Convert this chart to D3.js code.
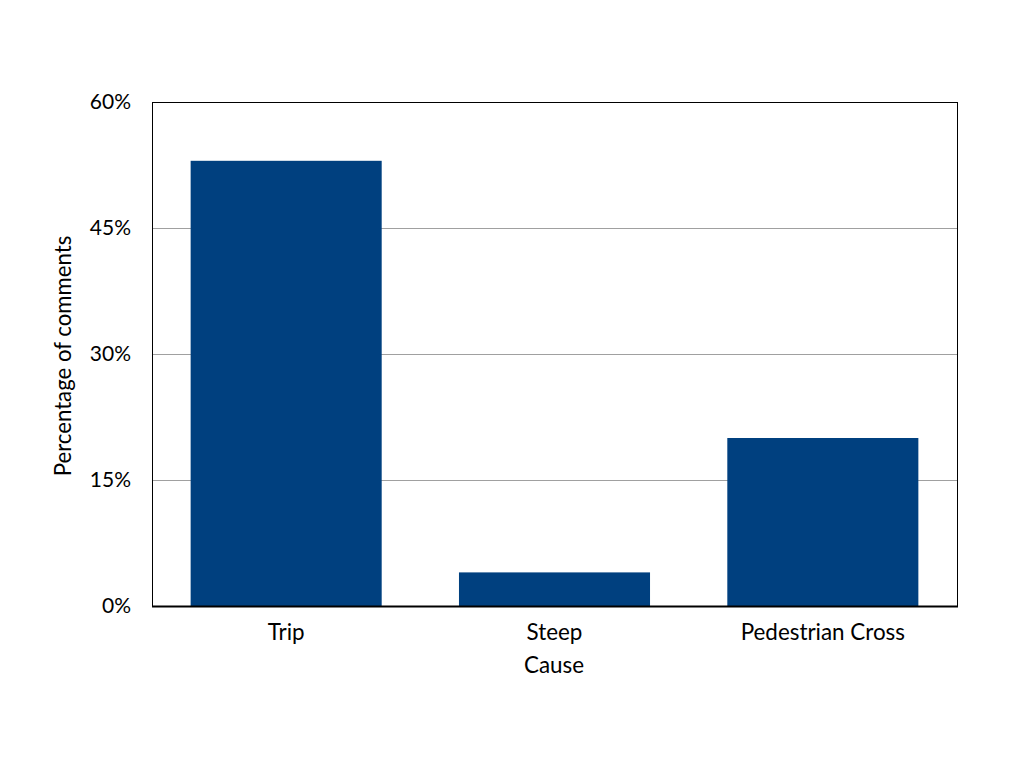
<!DOCTYPE html>
<html><head><meta charset="utf-8">
<script src="https://cdn.jsdelivr.net/npm/d3@7"></script>
<style>body{margin:0;background:#fff}svg{display:block}text{font-family:Lato,"Open Sans",sans-serif;fill:#000}</style>
</head><body>
<script>
const categories = ["Trip", "Steep", "Pedestrian Cross"];
const values = [53, 4, 20];
const yTicks = [0, 15, 30, 45, 60];
const xTitle = "Cause";
const yTitle = "Percentage of comments";

const W = 1024, H = 768;
const m = {left: 152, right: 1024 - 957, top: 102, bottom: 768 - 606};
const svg = d3.select("body").append("svg").attr("width", W).attr("height", H);
const iw = W - m.left - m.right, ih = H - m.top - m.bottom;
const g = svg.append("g").attr("transform", `translate(${m.left},${m.top})`);

const x = d3.scaleBand().domain(categories).range([0, iw]).paddingInner(0.288).paddingOuter(0.144);
const y = d3.scaleLinear().domain([0, 60]).range([ih, 0]);

// gridlines
g.selectAll(".grid").data(yTicks.filter(t => t > 0 && t < 60)).enter().append("line")
  .attr("x1", 0).attr("x2", iw).attr("y1", d => y(d)).attr("y2", d => y(d))
  .attr("stroke", "#a0a0a0").attr("stroke-width", 1).attr("shape-rendering", "crispEdges");

// bars
g.selectAll(".bar").data(values).enter().append("rect")
  .attr("x", (d, i) => x(categories[i])).attr("width", x.bandwidth())
  .attr("y", d => y(d)).attr("height", d => ih - y(d))
  .attr("fill", "#00407f");

// frame
g.append("rect").attr("x", 0.5).attr("y", 0.5).attr("width", iw).attr("height", ih)
  .attr("fill", "none").attr("stroke", "#000").attr("stroke-width", 1).attr("shape-rendering", "crispEdges");
g.append("line").attr("x1", 0).attr("x2", iw + 1).attr("y1", ih + 0.5).attr("y2", ih + 0.5)
  .attr("stroke", "#000").attr("stroke-width", 2);

// y axis
const ya = g.append("g").call(d3.axisLeft(y).tickValues(yTicks).tickFormat(d => d + "%").tickSize(0).tickPadding(21));
ya.select(".domain").remove();
ya.selectAll("text").style("font-size", "21px").style("font-family", "Lato, sans-serif").attr("fill", "#000");

// x axis
const xa = g.append("g").attr("transform", `translate(0,${ih})`)
  .call(d3.axisBottom(x).tickSize(0).tickPadding(18));
xa.select(".domain").remove();
xa.selectAll("text").style("font-size", "22.4px").style("font-family", "Lato, sans-serif").attr("fill", "#000");

svg.append("text").attr("x", 554).attr("y", 673).attr("text-anchor", "middle")
  .style("font-size", "22.4px").text(xTitle);
svg.append("text").attr("transform", "translate(71,356) rotate(-90)").attr("text-anchor", "middle")
  .style("font-size", "22.2px").text(yTitle);
</script>
</body></html>
